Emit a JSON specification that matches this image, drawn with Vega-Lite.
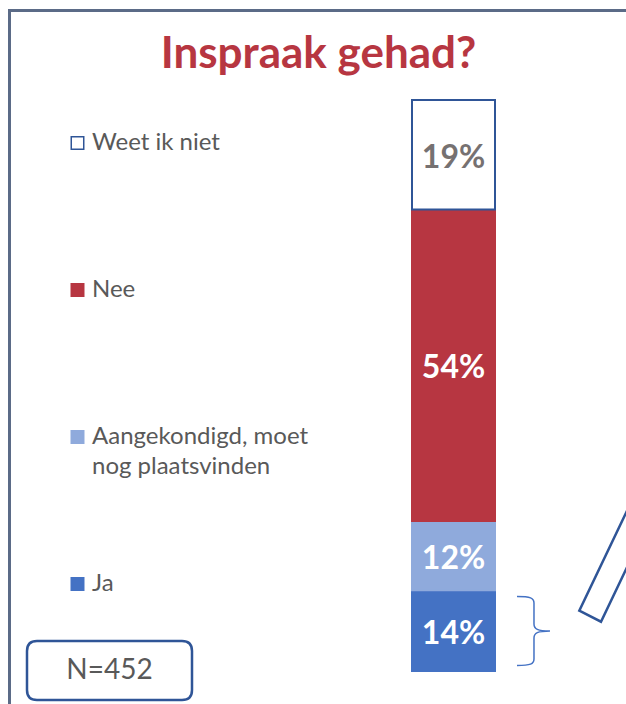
{
  "$schema": "https://vega.github.io/schema/vega-lite/v6.json",
  "autosize": {"type": "none"},
  "padding": {"left": 412, "top": 100, "right": 131, "bottom": 33},
  "width": 83,
  "height": 571,
  "background": "white",
  "config": {"view": {"stroke": null}},
  "title": {
    "text": "Inspraak gehad?",
    "font": "Lato",
    "fontSize": 44,
    "fontWeight": "bold",
    "color": "#B73641",
    "anchor": "middle",
    "frame": "group",
    "dx": -135,
    "dy": 103,
    "baseline": "alphabetic",
    "offset": 0
  },
  "datasets": {
    "answers": [
      {"question": "Inspraak gehad?", "category": "Ja", "pct": 0.14, "order": 1},
      {"question": "Inspraak gehad?", "category": "Aangekondigd, moet nog plaatsvinden", "pct": 0.12, "order": 2},
      {"question": "Inspraak gehad?", "category": "Nee", "pct": 0.54, "order": 3},
      {"question": "Inspraak gehad?", "category": "Weet ik niet", "pct": 0.19, "order": 4}
    ]
  },
  "data": {"name": "answers"},
  "layer": [
    {
      "mark": {"type": "bar", "strokeWidth": 2},
      "encoding": {
        "x": {"field": "question", "type": "nominal", "axis": null, "scale": {"paddingInner": 0, "paddingOuter": 0}},
        "y": {"field": "pct", "type": "quantitative", "stack": "zero", "axis": null, "scale": {"domain": [0, 0.99], "nice": false}},
        "order": {"field": "order", "type": "quantitative"},
        "fill": {
          "field": "category",
          "type": "nominal",
          "scale": {
            "domain": ["Weet ik niet", "Nee", "Aangekondigd, moet nog plaatsvinden", "Ja"],
            "range": ["#FFFFFF", "#B73641", "#8FAADC", "#4472C4"]
          },
          "legend": {
            "orient": "none",
            "legendX": -346.5,
            "legendY": 31,
            "title": null,
            "padding": 0,
            "symbolType": "square",
            "symbolSize": 156,
            "symbolStrokeWidth": 1.5,
            "labelFont": "Lato",
            "labelFontSize": 24,
            "labelColor": "#595959",
            "labelLimit": 400,
            "labelOffset": 2.5,
            "rowPadding": 93,
            "labelExpr": "datum.label == 'Aangekondigd, moet nog plaatsvinden' ? ['Aangekondigd, moet', 'nog plaatsvinden'] : [datum.label, '']",
            "encode": {"labels": {"update": {"lineHeight": {"value": 30}}}}
          }
        },
        "stroke": {
          "field": "category",
          "type": "nominal",
          "scale": {
            "domain": ["Weet ik niet", "Nee", "Aangekondigd, moet nog plaatsvinden", "Ja"],
            "range": ["#2F5597", "#B73641", "#8FAADC", "#4472C4"]
          }
        }
      }
    },
    {
      "transform": [
        {"stack": "pct", "groupby": ["question"], "sort": [{"field": "order"}], "as": ["s0", "s1"]},
        {"fold": ["s0", "s1"], "as": ["edge", "pos"]},
        {"aggregate": [{"op": "mean", "field": "pos", "as": "mid"}], "groupby": ["question", "category", "pct"]}
      ],
      "mark": {"type": "text", "font": "Lato", "fontWeight": "bold", "fontSize": 32, "baseline": "middle", "align": "center", "dy": 3},
      "encoding": {
        "x": {"field": "question", "type": "nominal"},
        "y": {"field": "mid", "type": "quantitative", "scale": {"domain": [0, 0.99], "nice": false}},
        "text": {"field": "pct", "type": "quantitative", "format": ".0%"},
        "color": {"condition": {"test": "datum.category === 'Weet ik niet'", "value": "#767171"}, "value": "#FFFFFF"}
      }
    },
    {
      "data": {"values": [{}]},
      "mark": {"type": "point", "opacity": 0},
      "encoding": {
        "shape": {
          "datum": "N=452",
          "type": "nominal",
          "scale": {"range": ["M-0.8788,-0.3576L0.8788,-0.3576Q1,-0.3576,1,-0.2364L1,0.2364Q1,0.3576,0.8788,0.3576L-0.8788,0.3576Q-1,0.3576,-1,0.2364L-1,-0.2364Q-1,-0.3576,-0.8788,-0.3576Z"]},
          "legend": {
            "orient": "none",
            "legendX": -386.5,
            "legendY": 486.5,
            "title": null,
            "padding": 0,
            "symbolSize": 27225,
            "symbolStrokeColor": "#2F5597",
            "symbolStrokeWidth": 2.5,
            "symbolFillColor": "transparent",
            "symbolOpacity": 1,
            "labelAlign": "center",
            "labelOffset": -84,
            "labelFont": "Lato",
            "labelFontSize": 28,
            "labelColor": "#595959"
          }
        }
      }
    },
    {
      "data": {"values": [{}]},
      "mark": {"type": "point", "opacity": 0},
      "encoding": {
        "shape": {
          "datum": "frame",
          "type": "nominal",
          "scale": {"range": ["M-1,1L-1,-1L1,-1"]},
          "legend": {
            "orient": "none",
            "legendX": -404,
            "legendY": -91,
            "title": null,
            "padding": 0,
            "symbolSize": 640000,
            "symbolStrokeColor": "#5B6B87",
            "symbolStrokeWidth": 3,
            "symbolFillColor": "transparent",
            "symbolOpacity": 1,
            "labelExpr": "''"
          }
        }
      }
    },
    {
      "data": {"values": [{}]},
      "mark": {"type": "point", "opacity": 0},
      "encoding": {
        "shape": {
          "datum": "brace",
          "type": "nominal",
          "scale": {"range": ["M-0.478,-1C-0.087,-1,0.014,-0.957,0.014,-0.812L0.014,-0.203C0.014,-0.058,0.116,0,0.478,0C0.116,0,0.014,0.058,0.014,0.203L0.014,0.812C0.014,0.957,-0.087,1,-0.478,1"]},
          "legend": {
            "orient": "none",
            "legendX": 86,
            "legendY": 495.5,
            "title": null,
            "padding": 0,
            "symbolSize": 4761,
            "symbolStrokeColor": "#4472C4",
            "symbolStrokeWidth": 1.5,
            "symbolFillColor": "transparent",
            "symbolOpacity": 1,
            "labelExpr": "''"
          }
        }
      }
    },
    {
      "data": {"values": [{}]},
      "mark": {"type": "point", "opacity": 0},
      "encoding": {
        "shape": {
          "datum": "pointer",
          "type": "nominal",
          "scale": {"range": ["M0,0L0.217,0.11L1.51,-2.596L1.293,-2.706Z"]},
          "legend": {
            "orient": "none",
            "legendX": 65.8,
            "legendY": 409.2,
            "title": null,
            "padding": 0,
            "symbolSize": 40000,
            "symbolStrokeColor": "#2F5597",
            "symbolStrokeWidth": 2.5,
            "symbolFillColor": "transparent",
            "symbolOpacity": 1,
            "labelExpr": "''"
          }
        }
      }
    }
  ],
  "resolve": {"scale": {"shape": "independent"}, "legend": {"shape": "independent"}}
}
